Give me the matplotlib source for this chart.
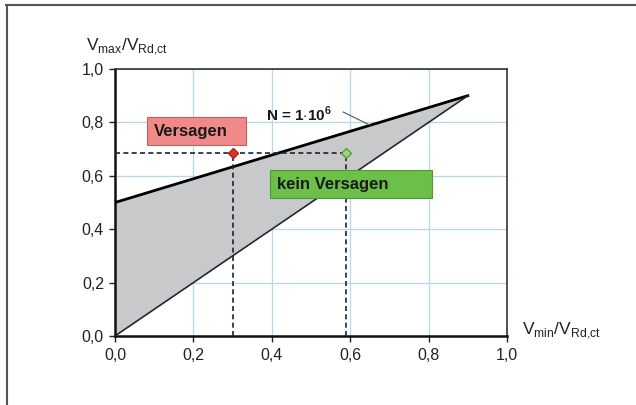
import matplotlib
matplotlib.use("Agg")
import matplotlib.pyplot as plt
from matplotlib.lines import Line2D
from matplotlib.patches import Rectangle

# Data
upper_x = [0.0, 0.9]
upper_y = [0.5, 0.9]
lower_x = [0.0, 0.9]
lower_y = [0.0, 0.9]
fail_pt = (0.30, 0.685)
ok_pt = (0.59, 0.685)
ticks = [0.0, 0.2, 0.4, 0.6, 0.8, 1.0]
tick_labels = ["0,0", "0,2", "0,4", "0,6", "0,8", "1,0"]

plt.rcParams['font.family'] = ['Liberation Sans', 'DejaVu Sans']
plt.rcParams['mathtext.fontset'] = 'custom'
plt.rcParams['mathtext.rm'] = 'Liberation Sans'
plt.rcParams['mathtext.bf'] = 'Liberation Sans:bold'

fig = plt.figure(figsize=(6.36, 4.05), dpi=100)
ax = fig.add_axes([115/636, 1-336/405, 392/636, 267/405])

# fill between lines
ax.fill([0.0, 0.9, 0.0, 0.0], [0.5, 0.9, 0.0, 0.5], color='#c8c9cb', zorder=2, lw=0)
ax.plot(upper_x, upper_y, color='black', lw=2.0, zorder=4)
ax.plot(lower_x, lower_y, color='#202830', lw=1.2, zorder=4)

# dashed guides
ax.plot([0, ok_pt[0]], [fail_pt[1], ok_pt[1]], color='#1a2530', ls=(0, (3, 2)), lw=1.2, zorder=5)
ax.plot([fail_pt[0], fail_pt[0]], [0, fail_pt[1]], color='#1a2530', ls=(0, (3, 2)), lw=1.2, zorder=5)
ax.plot([ok_pt[0], ok_pt[0]], [0, ok_pt[1]], color='#1a2530', ls=(0, (3, 2)), lw=1.2, zorder=5)

ax.plot([fail_pt[0]], [fail_pt[1]], marker='D', ms=5, color='#e0302a', mec='#b02020', zorder=6)
ax.plot([ok_pt[0]], [ok_pt[1]], marker='D', ms=5, color='#a0d080', mec='#50a040', zorder=6)

ax.set_xlim(0, 1)
ax.set_ylim(0, 1)
ax.set_xticks(ticks)
ax.set_yticks(ticks)
ax.set_xticklabels(tick_labels, fontsize=11.5, color='#222222')
ax.set_yticklabels(tick_labels, fontsize=11.5, color='#222222')
ax.grid(True, color='#b9d7ea', lw=0.9, zorder=1)
ax.set_axisbelow(True)
for s in ['top', 'right']:
    ax.spines[s].set_linewidth(1.2)
    ax.spines[s].set_color('#333333')
for s in ['left', 'bottom']:
    ax.spines[s].set_linewidth(1.8)
    ax.spines[s].set_color('#111111')
ax.tick_params(direction='out', length=4, width=1.0, color='#222222')
ax.tick_params(axis='x', pad=5)
ax.tick_params(axis='y', pad=4)

# label boxes
ax.add_patch(Rectangle((0.082, 0.715), 0.252, 0.105, fc='#f08a88', ec='#c06060', lw=0.8, zorder=7))
ax.text(0.099, 0.766, "Versagen", fontsize=12, fontweight='bold', color='#1a1a1a',
        ha='left', va='center', zorder=8)
ax.add_patch(Rectangle((0.395, 0.517), 0.414, 0.105, fc='#6cc04a', ec='#4a9a30', lw=0.8, zorder=7))
ax.text(0.413, 0.567, "kein Versagen", fontsize=12, fontweight='bold', color='#1a1a1a',
        ha='left', va='center', zorder=8)
ax.text(0.385, 0.832, r"N = 1$\cdot$10$^{\mathbf{6}}$", fontsize=11, fontweight='bold', color='#1a1a1a',
        ha='left', va='center', zorder=8)
ax.plot([0.582, 0.65], [0.839, 0.79], color='#555555', lw=0.8, zorder=7)

fig.text(86/636, 1-47/405, r"V$_{\mathrm{max}}$/V$_{\mathrm{Rd{,}ct}}$", fontsize=12.5, color='#222222',
         ha='left', va='center')
fig.text(522/636, 1-331/405, r"V$_{\mathrm{min}}$/V$_{\mathrm{Rd{,}ct}}$", fontsize=12.5, color='#222222',
         ha='left', va='center')

# outer frame (top and left)
fig.add_artist(Line2D([6/636, 1.0], [1-4.5/405, 1-4.5/405], transform=fig.transFigure, color='#555555', lw=1.5))
fig.add_artist(Line2D([6.5/636, 6.5/636], [0, 1-4.5/405], transform=fig.transFigure, color='#555555', lw=1.5))

fig.savefig("out.png", dpi=100)
